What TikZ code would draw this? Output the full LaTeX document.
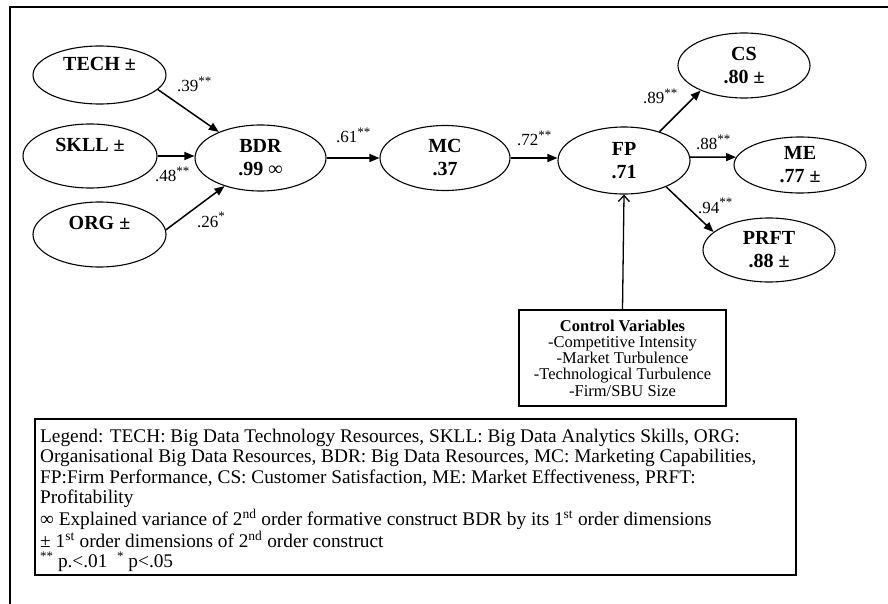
\documentclass[tikz,border=0pt]{standalone}
\usepackage{fontspec}
\setmainfont{Liberation Serif}
\usetikzlibrary{shapes.geometric,arrows.meta,positioning}

\newcommand{\sig}[1]{\raisebox{0.4em}{\fontsize{13}{13}\selectfont #1}}

\tikzset{
  construct/.style={ellipse, draw, line width=1.1pt, inner sep=0pt, align=center,
                    font=\fontsize{20}{23}\selectfont\bfseries},
  path arrow/.style={line width=1.5pt, -{Triangle[length=10pt,width=8pt]}},
  coef/.style={anchor=base west, inner sep=0pt, font=\fontsize{17}{18}\selectfont},
  plainbox/.style={rectangle, draw, line width=1.1pt, inner sep=0pt}
}

\begin{document}
\begin{tikzpicture}[x=1pt,y=-1pt]
  \useasboundingbox (0,0) rectangle (888,604);
  % page frame
  \draw[line width=2.5pt] (888,7) -- (10,7) -- (10,604);

  % first order dimensions
  \node[construct, minimum width=133pt, minimum height=58pt] (tech) at (99.5,75)  {TECH ±\\ \mbox{}};
  \node[construct, minimum width=134pt, minimum height=64pt] (skll) at (90,156)   {SKLL ±\\ \mbox{}};
  \node[construct, minimum width=133pt, minimum height=65pt] (org)  at (99.5,234.5) {ORG ±\\ \mbox{}};

  % second order and outcomes
  \node[construct, minimum width=131pt, minimum height=66pt] (bdr)  at (260.5,158) {BDR\\.99 ∞};
  \node[construct, minimum width=130pt, minimum height=65pt] (mc)   at (445,158)   {MC\\.37};
  \node[construct, minimum width=132pt, minimum height=67pt] (fp)   at (624,160.5) {FP\\.71};
  \node[construct, minimum width=132pt, minimum height=65pt] (cs)   at (744,65.5)  {CS\\.80 ±};
  \node[construct, minimum width=132pt, minimum height=56pt] (me)   at (800,165)   {ME\\.77 ±};
  \node[construct, minimum width=132pt, minimum height=64pt] (prft) at (769,250)   {PRFT\\.88 ±};

  % controls
  \node[plainbox, minimum width=207pt, minimum height=96pt, align=center,
        font=\fontsize{16.5}{16.3}\selectfont] (ctrl) at (622.5,358)
    {\textbf{Control Variables}\\-Competitive Intensity\\-Market Turbulence\\
     -Technological Turbulence\\-Firm/SBU Size};

  % paths
  \draw[path arrow] (tech.-14) -- (bdr.148);
  \draw[path arrow] (skll.east) -- (skll.east -| bdr.west);
  \draw[path arrow] (org.4) -- (bdr.218);
  \draw[path arrow] (bdr.east) -- (mc.west);
  \draw[path arrow] (mc.east) -- (mc.east -| fp.west);
  \draw[path arrow] (fp.39) -- (cs.210);
  \draw[path arrow] (fp.3) -- (me.173);
  \draw[path arrow] (fp.-32) -- (prft.162);
  \draw[line width=1.3pt, -{Straight Barb[length=6pt,width=11pt]}] (ctrl.north) -- (fp.south);

  % coefficients
  \node[coef] (c39) at (177,92)  {.39\sig{**}};
  \node[coef] (c48) at (155,182) {.48\sig{**}};
  \node[coef] (c26) at (197,227) {.26\sig{*}};
  \node[coef] (c61) at (336,143) {.61\sig{**}};
  \node[coef] (c72) at (517,146) {.72\sig{**}};
  \node[coef] (c89) at (643,104) {.89\sig{**}};
  \node[coef] (c88) at (696,150) {.88\sig{**}};
  \node[coef] (c94) at (698,213) {.94\sig{**}};

  % legend
  \node[plainbox, minimum width=761pt, minimum height=156pt] (legend) at (415.5,497) {};
  \node[anchor=north west, inner sep=0pt, align=left,
        font=\fontsize{19.3}{20.3}\selectfont] (legendtext) at (40,429)
    {Legend: TECH: Big Data Technology Resources, SKLL: Big Data Analytics Skills, ORG:\\
     Organisational Big Data Resources, BDR: Big Data Resources, MC: Marketing Capabilities,\\
     FP:Firm Performance, CS: Customer Satisfaction, ME: Market Effectiveness, PRFT:\\
     Profitability\\
     ∞ Explained variance of 2\textsuperscript{nd} order formative construct BDR by its 1\textsuperscript{st} order dimensions\\
     ± 1\textsuperscript{st} order dimensions of 2\textsuperscript{nd} order construct\\
     \sig{**} p.<.01 \ \sig{*} p<.05};
\end{tikzpicture}
\end{document}
